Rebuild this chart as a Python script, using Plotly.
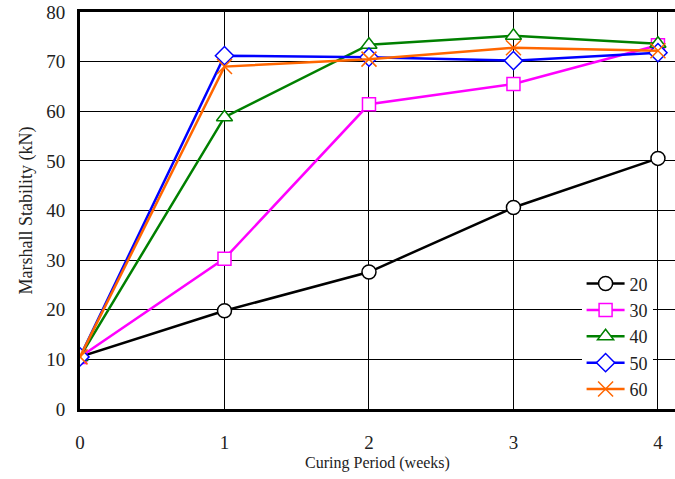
import plotly.graph_objects as go

weeks = [0, 1, 2, 3, 4]
s20 = [10.5, 19.8, 27.6, 40.6, 50.5]
s30 = [10.5, 30.3, 61.4, 65.5, 73.3]
s40 = [10.5, 58.8, 73.4, 75.2, 73.6]
s50 = [10.5, 71.2, 70.9, 70.2, 71.8]
s60 = [10.5, 69.0, 70.5, 72.8, 72.2]
names = ["20", "30", "40", "50", "60"]
colors = ["#000000", "#FF00FF", "#008000", "#0000FF", "#FF6600"]
symbols = ["circle", "square", "triangle-up", "diamond", "x-thin"]
sizes = [14, 13, 14, 14, 15]

FONT = "Liberation Serif"
fig = go.Figure()
for name, vals, c, sym, sz in zip(names, [s20, s30, s40, s50, s60], colors, symbols, sizes):
    fig.add_trace(go.Scatter(
        x=weeks, y=vals, name=name, mode="lines+markers",
        line=dict(color=c, width=2.5),
        marker=dict(symbol=sym, size=sz, color="white" if sym != "x-thin" else c,
                    line=dict(color=c, width=1.5)),
    ))

fig.update_layout(
    width=675, height=479,
    margin=dict(l=80, r=0, t=12, b=70),
    plot_bgcolor="white", paper_bgcolor="white",
    font=dict(family=FONT, size=19, color="#222"),
    legend=dict(x=0.843, y=0.362, xanchor="left", yanchor="top",
                bgcolor="white", borderwidth=0,
                font=dict(family=FONT, size=18, color="#222"),
                tracegroupgap=0, itemwidth=38),
    showlegend=True,
)
fig.update_xaxes(
    range=[0, 4.118], tickvals=[0, 1, 2, 3, 4],
    tickfont=dict(family=FONT, size=19, color="#222"),
    showgrid=True, gridcolor="black", gridwidth=1,
    showline=True, linecolor="black", linewidth=3, mirror=True,
    ticks="inside", ticklen=7, tickcolor="black",
    ticklabelstandoff=14, zeroline=False,
    title=dict(text="Curing Period (weeks)", font=dict(family=FONT, size=16, color="#222"), standoff=6),
)
fig.update_yaxes(
    range=[0, 80], dtick=10,
    tickfont=dict(family=FONT, size=19, color="#222"),
    showgrid=True, gridcolor="black", gridwidth=1,
    showline=True, linecolor="black", linewidth=3,
    ticks="", ticklabelstandoff=8, zeroline=False,
    title=dict(text="Marshall Stability (kN)", font=dict(family=FONT, size=18, color="#222"), standoff=9),
)
fig.write_html("out.html")
